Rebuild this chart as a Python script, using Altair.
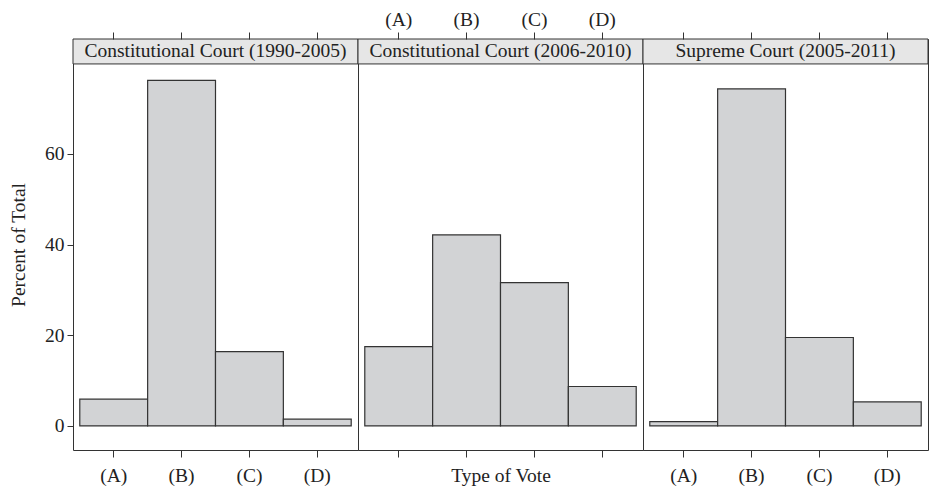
import altair as alt
import pandas as pd

# ---- data ----
panels = ["Constitutional Court (1990-2005)",
          "Constitutional Court (2006-2010)",
          "Supreme Court (2005-2011)"]
votes = ["(A)", "(B)", "(C)", "(D)"]
pct_cc_1990_2005 = [5.9, 76.2, 16.4, 1.5]
pct_cc_2006_2010 = [17.5, 42.1, 31.6, 8.7]
pct_sc_2005_2011 = [0.95, 74.3, 19.5, 5.3]
series = [pct_cc_1990_2005, pct_cc_2006_2010, pct_sc_2005_2011]
y_ticks = [0, 20, 40, 60]
y_title = "Percent of Total"
x_title = "Type of Vote"

# ---- layout / style constants ----
FONT = "Liberation Serif"
FS = 19.5
INK = "#222222"
LINE = "#333333"
W, H = 285, 411
Y_MIN, Y_MAX = -5.3, 85.3
STRIP_LO = 79.8


def panel(i):
    df = pd.DataFrame({"vote": votes, "pct": series[i]})
    xscale = alt.Scale(domain=votes, paddingInner=0, paddingOuter=0.1)
    yscale = alt.Scale(domain=[Y_MIN, Y_MAX], nice=False, zero=False)

    if i == 0:
        yaxis = alt.Axis(values=y_ticks, title=y_title, tickSize=6, labelPadding=3,
                         titlePadding=16, domain=False, grid=False)
    else:
        yaxis = None

    strip = alt.Chart(pd.DataFrame({"panel": [panels[i]]})).mark_rect(
        fill="#e6e6e6", stroke=LINE, strokeWidth=1
    ).encode(
        y=alt.YDatum(STRIP_LO, type="quantitative", scale=yscale, axis=yaxis),
        y2=alt.Y2Datum(Y_MAX),
    )
    label = alt.Chart(pd.DataFrame({"panel": [panels[i]]})).mark_text(
        font=FONT, fontSize=FS, color=INK, baseline="middle", align="center"
    ).encode(
        text="panel:N",
        y=alt.YDatum((STRIP_LO + Y_MAX) / 2, type="quantitative", scale=yscale, axis=yaxis),
    )

    bottom_axis = alt.Axis(orient="bottom", labels=(i != 1),
                           title=(x_title if i == 1 else None),
                           tickSize=7, labelPadding=9, titlePadding=9,
                           domain=False, grid=False, labelAngle=0)
    bars = alt.Chart(df).mark_rect(
        fill="#d2d3d5", stroke=LINE, strokeWidth=1.2
    ).encode(
        x=alt.X("vote:N", scale=xscale, axis=bottom_axis, sort=votes),
        y=alt.Y("pct:Q", scale=yscale, axis=yaxis),
        y2=alt.Y2Datum(0),
    )

    top_axis = alt.Axis(orient="top", labels=(i == 1), title=None,
                        tickSize=7, labelPadding=3, domain=False, grid=False,
                        labelAngle=0)
    topl = alt.Chart(df).mark_rect(opacity=0).encode(
        x=alt.X("vote:N", scale=xscale, axis=top_axis, sort=votes),
    )

    return alt.layer(strip, label, bars, topl).resolve_axis(x="independent").properties(
        width=W, height=H)


chart = alt.hconcat(panel(0), panel(1), panel(2), spacing=0, bounds="flush").properties(
    padding=0
).configure_view(
    stroke=LINE, strokeWidth=1
).configure_axis(
    labelFont=FONT, labelFontSize=FS, labelColor=INK,
    titleFont=FONT, titleFontSize=FS, titleFontWeight="normal", titleColor=INK,
    tickColor=LINE, tickWidth=1
)

chart.save("out.html", embed_options={"renderer": "svg", "actions": False})
